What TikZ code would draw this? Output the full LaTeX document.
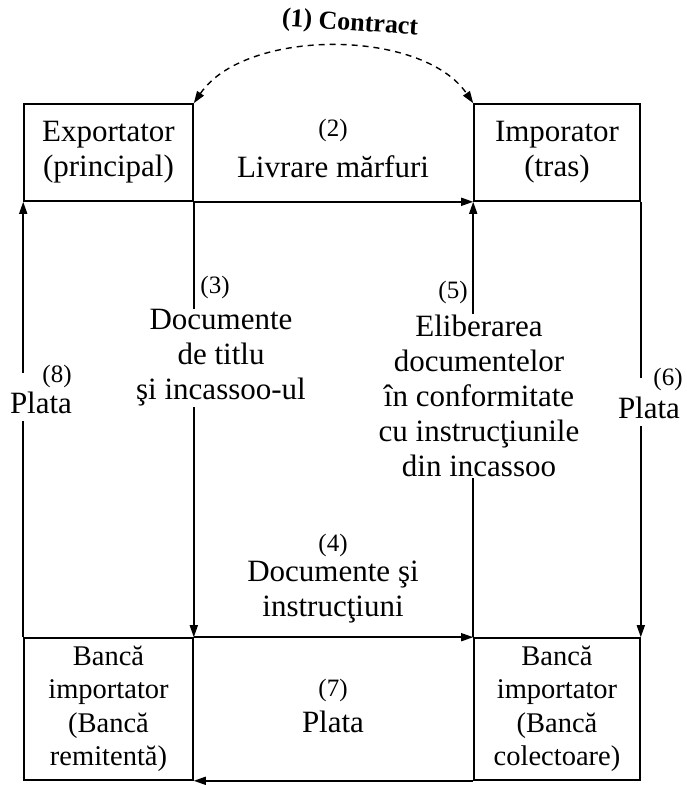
\documentclass[tikz,border=0pt]{standalone}
\usepackage{fontspec}
\setmainfont{Liberation Serif}
\usetikzlibrary{arrows.meta}
\newcommand\mainf{\fontsize{31}{35}\selectfont}
\newcommand\numf{\fontsize{25}{30}\selectfont}
\newcommand\bankf{\fontsize{28.5}{33.5}\selectfont}
\newcommand\contrf{\bfseries\fontsize{26}{26}\selectfont}
\begin{document}
\begin{tikzpicture}[x=1pt,y=-1pt,
 box/.style={draw, line width=1.6pt, inner sep=0pt, align=center, font=\mainf},
 arr/.style={line width=1.6pt, -{Triangle[length=12pt,width=8pt]}},
 lbl/.style={font=\mainf, align=center, inner sep=1pt},
 numlbl/.style={font=\numf, inner sep=1pt},
 plata/.style={font=\mainf, fill=white, text height=38pt, text depth=6pt, inner sep=2pt, anchor=base},
]
\useasboundingbox (0,0) rectangle (687,785);
% boxes
\node[box, minimum width=169pt, minimum height=97pt] (exp) at (108.5,152.5) {Exportator\\(principal)};
\node[box, minimum width=166pt, minimum height=97pt] (imp) at (557,152.5) {Imporator\\(tras)};
\node[box, font=\bankf, minimum width=169pt, minimum height=142pt] (bl) at (108.5,709) {Bancă\\importator\\(Bancă\\remitentă)};
\node[box, font=\bankf, minimum width=166pt, minimum height=142pt] (br) at (557,709) {Bancă\\importator\\(Bancă\\colectoare)};
% connectors
\draw[line width=1.4pt, dash pattern=on 6pt off 5pt, {Triangle[length=12pt,width=8pt]}-{Triangle[length=12pt,width=8pt]}]
  (exp.north east) .. controls (245,28) and (422,28) .. (imp.north west);
\draw[arr] (exp.south east) -- (imp.south west);
\draw[arr] (exp.south east) -- (bl.north east);
\draw[arr] (br.north west) -- (imp.south west);
\draw[arr] (imp.south east) -- (br.north east);
\draw[arr] (bl.north east) -- (br.north west);
\draw[arr] (br.south west) -- (bl.south east);
\draw[arr] (bl.north west) -- (exp.south west);
% contract label
\node[font=\contrf, rotate=-4, inner sep=1pt] (n1) at (350,24) {(1) Contract};
% labels
\node[numlbl] (n2) at (333,130) {(2)};
\node[lbl] (t2) at (333,167) {Livrare mărfuri};
\node[numlbl] (n3) at (215,287) {(3)};
\node[lbl, fill=white] (t3) at (221,358) {Documente\\de titlu\\şi incassoo-ul};
\node[numlbl] (n5) at (453,292) {(5)};
\node[lbl, fill=white] (t5) at (479,396) {Eliberarea\\documentelor\\în conformitate\\cu instrucţiunile\\din incassoo};
\node[plata] (t8) at (41,413) {Plata};
\node[numlbl] (n8) at (57,376) {(8)};
\node[plata] (t6) at (649,418) {Plata};
\node[numlbl] (n6) at (668,379) {(6)};
\node[numlbl] (n4) at (333,545) {(4)};
\node[lbl] (t4) at (333,592) {Documente şi\\instrucţiuni};
\node[numlbl] (n7) at (333,690) {(7)};
\node[lbl] (t7) at (333,722) {Plata};
\end{tikzpicture}
\end{document}
